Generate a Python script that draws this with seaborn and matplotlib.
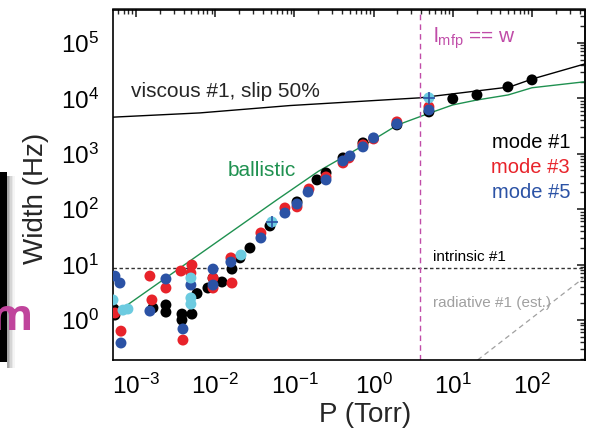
import numpy as np
import pandas as pd
import matplotlib
matplotlib.use('Agg')
import matplotlib.pyplot as plt
import seaborn as sns
from matplotlib.patches import Rectangle
from matplotlib.ticker import LogLocator, NullFormatter

# ---- data (P in Torr, width in Hz) ----
p_mode1 = [5.27e-4, 5.43e-4, 1.64e-3, 2.39e-3, 2.39e-3, 3.81e-3, 3.81e-3, 5.09e-3,
           5.9e-3, 8.1e-3, 9.4e-3, 0.0122, 0.0163, 0.0206, 0.0275, 0.0492, 0.108,
           0.193, 0.251, 0.411, 0.735, 1.97, 5.0, 10.0, 20.2, 49.7, 100.0]
w_mode1 = [1.58, 1.23, 1.65, 1.87, 1.39, 1.28, 1.0, 1.28,
           3.0, 3.78, 5.7, 4.85, 8.3, 13.2, 19.9, 49.8, 135,
           337, 450, 840, 1567, 3310, 5680, 9770, 11500, 16070, 21500]

p_mode3 = [5.43e-4, 6.47e-4, 1.5e-3, 1.59e-3, 2.39e-3, 3.7e-3, 3.92e-3, 5.09e-3,
           4.94e-3, 9.4e-3, 9.4e-3, 0.0163, 0.0158, 0.0378, 0.076, 0.108, 0.153,
           0.251, 0.411, 0.489, 0.735, 1.0, 1.97, 5.0]
w_mode3 = [1.34, 0.63, 6.2, 2.3, 3.78, 7.66, 0.435, 9.8,
           7.05, 3.78, 5.7, 4.65, 13.2, 37.2, 105, 110, 231,
           381, 682, 840, 1442, 1850, 3750, 7000]

p_mode5 = [5.43e-4, 6.28e-4, 6.47e-4, 1.5e-3, 2.39e-3, 3.92e-3, 4.94e-3, 9.4e-3,
           9.4e-3, 0.0158, 0.0378, 0.076, 0.108, 0.149, 0.251, 0.411, 0.504,
           0.735, 1.0, 1.97, 5.0]
w_mode5 = [6.2, 4.65, 0.385, 1.45, 5.5, 0.69, 4.28, 8.3,
           4.28, 11.1, 30.2, 85, 124, 204, 337, 742, 912,
           1327, 1930, 3450, 6170]

# light-blue points (not in the legend), two of them with a small error cross
p_extra = [5.13e-4, 6.86e-4, 7.92e-4, 4.94e-3, 4.94e-3, 4.94e-3, 0.0212, 0.0521, 5.0]
w_extra = [2.3, 1.51, 1.58, 5.73, 2.5, 1.94, 14.9, 58.7, 10200]
p_cross = [0.0521, 5.0]
w_cross = [58.7, 10200]

# model curves
p_viscous = [5.13e-4, 6.4e-3, 0.088, 1.0, 3.85, 52, 102, 467]
w_viscous = [4570, 5450, 7400, 9100, 10200, 16000, 22400, 41800]

p_ballistic = [5.13e-4, 0.06, 0.2, 0.42, 1.0, 2.0, 4.9, 10, 20, 50, 100, 467]
w_ballistic = [1.23, 147, 480, 880, 1800, 3300, 5300, 7600, 9300, 11500, 15500, 19900]

p_radiative = [20.6, 467]
w_radiative = [0.19, 6.0]

w_intrinsic = 8.7
p_mfp = 3.9

modes = ["mode #1", "mode #3", "mode #5", "extra"]
colors = {"mode #1": "#000000", "mode #3": "#e8232a", "mode #5": "#2b52a5", "extra": "#6ccbe0"}

df = pd.concat([
    pd.DataFrame({"P": p_mode1, "W": w_mode1, "mode": "mode #1"}),
    pd.DataFrame({"P": p_mode3, "W": w_mode3, "mode": "mode #3"}),
    pd.DataFrame({"P": p_mode5, "W": w_mode5, "mode": "mode #5"}),
    pd.DataFrame({"P": p_extra, "W": w_extra, "mode": "extra"}),
], ignore_index=True)

sns.set_theme(style="white")
plt.rcParams['font.family'] = ['Liberation Sans', 'DejaVu Sans']
plt.rcParams['mathtext.default'] = 'regular'
plt.rcParams['axes.unicode_minus'] = False

fig = plt.figure(figsize=(5.92, 4.32), dpi=100)
ax = fig.add_axes([113 / 592, 1 - 360 / 432, 472 / 592, 350.5 / 432])

# left-over slide decoration (black box edge with shadow, cut-off magenta "m")
for i, a in enumerate([0.35, 0.25, 0.16, 0.09, 0.04]):
    fig.patches.append(Rectangle(((7 + i * 1.6) / 592, 1 - 368 / 432), 1.6 / 592, 192 / 432,
                                 transform=fig.transFigure, color='black', alpha=a, lw=0))
fig.patches.append(Rectangle((0, 1 - 362 / 432), 7 / 592, 190 / 432,
                             transform=fig.transFigure, color='black', lw=0))
fig.text(33 / 592, 1 - 330 / 432, "m", color="#c0449c", fontsize=31, fontweight='bold',
         family=['Open Sans', 'DejaVu Sans'], ha='right', va='baseline')

# model lines
ax.plot(p_viscous, w_viscous, color='black', lw=1.0, zorder=2)
ax.plot(p_ballistic, w_ballistic, color='#1f9150', lw=1.0, zorder=2)
ax.plot(p_radiative, w_radiative, color='#a0a0a0', lw=0.9, ls=(0, (4, 3)), zorder=2)
ax.axhline(w_intrinsic, color='#333333', lw=1.0, ls=(0, (2.5, 1.8)), zorder=2)
ax.axvline(p_mfp, color='#c04ca8', lw=1.0, ls=(0, (4, 3)), zorder=2)

sns.scatterplot(data=df, x="P", y="W", hue="mode", hue_order=modes, palette=colors,
                s=62, edgecolor='none', legend=False, ax=ax, zorder=3)
ax.plot(p_cross, w_cross, ls='none', marker='+', ms=8, mew=1.2, color='#2b52a5', zorder=4)

ax.set_xscale('log')
ax.set_yscale('log')
ax.set_xlim(5.13e-4, 467)
ax.set_ylim(0.19, 4e5)

for axis in (ax.xaxis, ax.yaxis):
    axis.set_major_locator(LogLocator(base=10, numticks=20))
    axis.set_minor_locator(LogLocator(base=10, subs=np.arange(2, 10), numticks=20))
    axis.set_minor_formatter(NullFormatter())
ax.tick_params(which='major', direction='out', length=6, width=1.2, labelsize=17.5, pad=4,
               colors='black')
ax.tick_params(which='minor', direction='out', length=3.5, width=1.0)

# mirrored ticks on top and right point inward
top = ax.secondary_xaxis('top')
right = ax.secondary_yaxis('right')
for sec, axis in ((top, top.xaxis), (right, right.yaxis)):
    axis.set_major_locator(LogLocator(base=10, numticks=20))
    axis.set_minor_locator(LogLocator(base=10, subs=np.arange(2, 10), numticks=20))
    axis.set_major_formatter(NullFormatter())
    axis.set_minor_formatter(NullFormatter())
    sec.tick_params(which='major', direction='in', length=6, width=1.2)
    sec.tick_params(which='minor', direction='in', length=3.5, width=1.0)
    for sp in sec.spines.values():
        sp.set_linewidth(1.2)

for sp in ax.spines.values():
    sp.set_color('black')
    sp.set_linewidth(1.2)

ax.set_xlabel("P (Torr)", fontsize=20, labelpad=0)
ax.xaxis.set_label_coords(0.534, -0.12)
ax.set_ylabel("Width (Hz)", fontsize=20)
ax.yaxis.set_label_coords(-0.135, 0.46)

# annotations
T = lambda x, y: (x / 592, 1 - y / 432)
fig.text(*T(131, 97), "viscous #1, slip 50%", fontsize=15, va='baseline')
fig.text(*T(228, 176), "ballistic", fontsize=15, color='#1f9150', va='baseline')
fig.text(*T(433, 43), r"$\mathregular{l_{mfp}}$ == w", fontsize=15, color='#c04ca8', va='baseline')
fig.text(*T(570, 148), "mode #1", fontsize=14.5, color=colors["mode #1"], ha='right', va='baseline')
fig.text(*T(570, 173), "mode #3", fontsize=14.5, color=colors["mode #3"], ha='right', va='baseline')
fig.text(*T(570, 198), "mode #5", fontsize=14.5, color=colors["mode #5"], ha='right', va='baseline')
fig.text(*T(433, 261), "intrinsic #1", fontsize=11, color='black', va='baseline')
fig.text(*T(433, 307), "radiative #1 (est.)", fontsize=11, color='#a0a0a0', va='baseline')

fig.savefig("out.png", dpi=100)
